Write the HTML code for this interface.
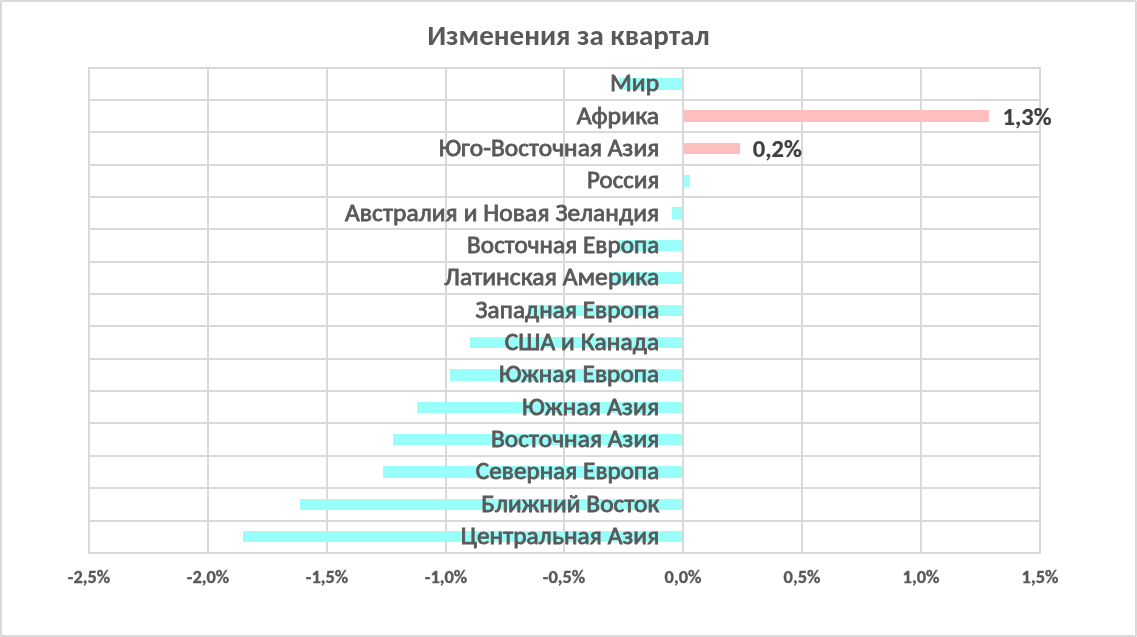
<!DOCTYPE html><html lang="ru"><head><meta charset="utf-8"><title>Изменения за квартал</title><style>
html,body{margin:0;padding:0;background:#fff;width:1137px;height:637px;overflow:hidden}
svg{display:block;will-change:transform}
text{font-family:Carlito, "Liberation Sans", "DejaVu Sans", sans-serif}
.lab{font-size:25.5px;font-weight:normal;fill:#595959;stroke:#595959;stroke-width:0.85px;letter-spacing:0.1px}
.val{font-size:24.5px;font-weight:bold;fill:#404040;stroke:#404040;stroke-width:0.2px}
.tick{font-size:18.4px;font-weight:bold;fill:#595959;stroke:#595959;stroke-width:0.35px}
.title{font-size:29.0px;font-weight:bold;fill:#595959}
</style></head><body>
<svg width="1137" height="637" viewBox="0 0 1137 637">
<rect x="0" y="0" width="1137" height="637" fill="#fff"/>
<rect x="1" y="1" width="1135" height="635" rx="1" fill="none" stroke="#D9D9D9" stroke-width="2"/>
<text class="title" x="568.5" y="45.0" text-anchor="middle" textLength="282.63" lengthAdjust="spacingAndGlyphs">Изменения за квартал</text>
<g fill="#D9D9D9"><rect x="88" y="67" width="953" height="2"/><rect x="88" y="99" width="953" height="2"/><rect x="88" y="131" width="953" height="2"/><rect x="88" y="164" width="953" height="2"/><rect x="88" y="196" width="953" height="2"/><rect x="88" y="228" width="953" height="2"/><rect x="88" y="261" width="953" height="2"/><rect x="88" y="293" width="953" height="2"/><rect x="88" y="325" width="953" height="2"/><rect x="88" y="358" width="953" height="2"/><rect x="88" y="390" width="953" height="2"/><rect x="88" y="422" width="953" height="2"/><rect x="88" y="455" width="953" height="2"/><rect x="88" y="487" width="953" height="2"/><rect x="88" y="520" width="953" height="2"/><rect x="88" y="552" width="953" height="2"/><rect x="88" y="67" width="2" height="487"/><rect x="207" y="67" width="2" height="487"/><rect x="326" y="67" width="2" height="487"/><rect x="445" y="67" width="2" height="487"/><rect x="563" y="67" width="2" height="487"/><rect x="801" y="67" width="2" height="487"/><rect x="920" y="67" width="2" height="487"/><rect x="1039" y="67" width="2" height="487"/></g>
<rect x="619" y="78" width="64" height="12" fill="#99FFFA"/>
<rect x="683" y="110" width="306" height="12" fill="#FFBFBF"/>
<rect x="683" y="143" width="57" height="11" fill="#FFBFBF"/>
<rect x="683" y="175" width="7" height="12" fill="#99FFFA"/>
<rect x="672" y="207" width="11" height="12" fill="#99FFFA"/>
<rect x="619" y="240" width="64" height="11" fill="#99FFFA"/>
<rect x="609" y="272" width="74" height="12" fill="#99FFFA"/>
<rect x="528" y="305" width="155" height="11" fill="#99FFFA"/>
<rect x="470" y="337" width="213" height="11" fill="#99FFFA"/>
<rect x="450" y="369" width="233" height="12" fill="#99FFFA"/>
<rect x="417" y="402" width="266" height="11" fill="#99FFFA"/>
<rect x="393" y="434" width="290" height="11" fill="#99FFFA"/>
<rect x="383" y="466" width="300" height="12" fill="#99FFFA"/>
<rect x="300" y="499" width="383" height="11" fill="#99FFFA"/>
<rect x="243" y="531" width="440" height="11" fill="#99FFFA"/>
<rect x="682" y="67" width="2" height="487" fill="#D9D9D9"/>
<text class="lab" x="659.3" y="91.00" text-anchor="end" textLength="49.34" lengthAdjust="spacingAndGlyphs">Мир</text>
<text class="lab" x="659.3" y="124.00" text-anchor="end" textLength="82.49" lengthAdjust="spacingAndGlyphs">Африка</text>
<text class="lab" x="659.3" y="156.00" text-anchor="end" textLength="220.51" lengthAdjust="spacingAndGlyphs">Юго-Восточная Азия</text>
<text class="lab" x="659.3" y="188.00" text-anchor="end" textLength="72.25" lengthAdjust="spacingAndGlyphs">Россия</text>
<text class="lab" x="659.3" y="221.00" text-anchor="end" textLength="314.27" lengthAdjust="spacingAndGlyphs">Австралия и Новая Зеландия</text>
<text class="lab" x="659.3" y="253.00" text-anchor="end" textLength="192.2" lengthAdjust="spacingAndGlyphs">Восточная Европа</text>
<text class="lab" x="659.3" y="285.00" text-anchor="end" textLength="215.11" lengthAdjust="spacingAndGlyphs">Латинская Америка</text>
<text class="lab" x="659.3" y="318.00" text-anchor="end" textLength="183.77" lengthAdjust="spacingAndGlyphs">Западная Европа</text>
<text class="lab" x="659.3" y="350.00" text-anchor="end" textLength="154.66" lengthAdjust="spacingAndGlyphs">США и Канада</text>
<text class="lab" x="659.3" y="382.00" text-anchor="end" textLength="160.28" lengthAdjust="spacingAndGlyphs">Южная Европа</text>
<text class="lab" x="659.3" y="415.00" text-anchor="end" textLength="137.21" lengthAdjust="spacingAndGlyphs">Южная Азия</text>
<text class="lab" x="659.3" y="447.00" text-anchor="end" textLength="168.31" lengthAdjust="spacingAndGlyphs">Восточная Азия</text>
<text class="lab" x="659.3" y="479.00" text-anchor="end" textLength="183.45" lengthAdjust="spacingAndGlyphs">Северная Европа</text>
<text class="lab" x="659.3" y="512.00" text-anchor="end" textLength="178.01" lengthAdjust="spacingAndGlyphs">Ближний Восток</text>
<text class="lab" x="659.3" y="544.00" text-anchor="end" textLength="198.51" lengthAdjust="spacingAndGlyphs">Центральная Азия</text>
<text class="val" x="1002.6" y="124.73" textLength="49.02" lengthAdjust="spacingAndGlyphs">1,3%</text>
<text class="val" x="752.8" y="157.07" textLength="49.02" lengthAdjust="spacingAndGlyphs">0,2%</text>
<text class="tick" x="89" y="583.0" text-anchor="middle" textLength="42.42" lengthAdjust="spacingAndGlyphs">-2,5%</text>
<text class="tick" x="208" y="583.0" text-anchor="middle" textLength="42.42" lengthAdjust="spacingAndGlyphs">-2,0%</text>
<text class="tick" x="327" y="583.0" text-anchor="middle" textLength="42.42" lengthAdjust="spacingAndGlyphs">-1,5%</text>
<text class="tick" x="446" y="583.0" text-anchor="middle" textLength="42.42" lengthAdjust="spacingAndGlyphs">-1,0%</text>
<text class="tick" x="564" y="583.0" text-anchor="middle" textLength="42.42" lengthAdjust="spacingAndGlyphs">-0,5%</text>
<text class="tick" x="683" y="583.0" text-anchor="middle" textLength="36.8" lengthAdjust="spacingAndGlyphs">0,0%</text>
<text class="tick" x="802" y="583.0" text-anchor="middle" textLength="36.8" lengthAdjust="spacingAndGlyphs">0,5%</text>
<text class="tick" x="921" y="583.0" text-anchor="middle" textLength="36.8" lengthAdjust="spacingAndGlyphs">1,0%</text>
<text class="tick" x="1040" y="583.0" text-anchor="middle" textLength="36.8" lengthAdjust="spacingAndGlyphs">1,5%</text>
</svg></body></html>
